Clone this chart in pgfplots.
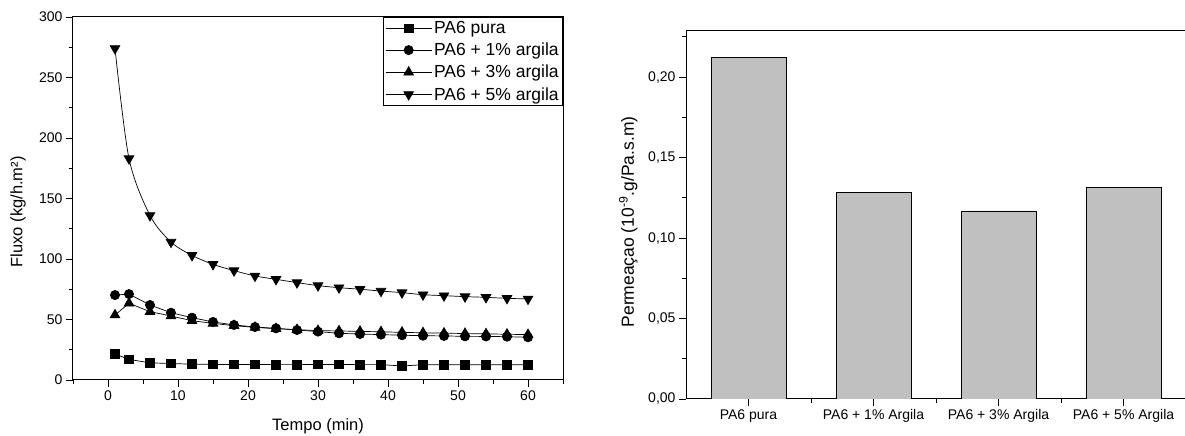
\documentclass[border=0pt]{standalone}
\usepackage{pgfplots}
\pgfplotsset{compat=1.18}
\usepackage{fontspec}
\setmainfont{Liberation Sans}

\begin{document}
\begin{tikzpicture}[x=1pt,y=1pt]
\useasboundingbox (0,0) rectangle (1185,436);
% left: flux vs time
\begin{axis}[
  at={(73pt,56pt)}, anchor=south west,
  scale only axis, width=490pt, height=363pt,
  xmin=-5, xmax=65, ymin=0, ymax=300,
  xtick={0,10,...,60}, ytick={0,50,...,300},
  minor xtick={-5,5,...,65}, minor ytick={25,75,...,275},
  tick align=outside, xtick pos=bottom, ytick pos=left,
  major tick length=7pt, minor tick length=4pt,
  tick style={black, line width=0.8pt},
  axis line style={line width=1pt},
  ticklabel style={font=\fontsize{14}{16}\selectfont},
  /pgf/number format/assume math mode=true,
  xlabel={Tempo (min)}, ylabel={Fluxo (kg/h.m²)},
  label style={font=\fontsize{16.5}{19}\selectfont},
  xlabel style={at={(axis description cs:0.5,-0.126)}, anchor=center},
  ylabel style={at={(axis description cs:-0.112,0.463)}, anchor=center},
  legend style={at={(1,1)}, anchor=north east, draw=black, line width=0.6pt,
    font=\fontsize{17.5}{20}\selectfont, inner sep=2pt, row sep=4pt},
  legend cell align=left,
  legend image code/.code={\draw[mark repeat=2, mark phase=2, #1]
    plot coordinates {(0pt,0pt) (23pt,0pt) (46pt,0pt)};},
  every axis plot/.append style={black, line width=0.7pt},
]
\addplot[mark=square*, mark size=4.3pt] coordinates {
  (1,21.5) (3,17) (6,14.2) (9,13.6) (12,13.1) (15,12.9) (18,12.8) (21,12.8)
  (24,12.7) (27,12.7) (30,12.8) (33,12.8) (36,12.7) (39,12.7) (42,11.6)
  (45,12.6) (48,12.6) (51,12.6) (54,12.6) (57,12.6) (60,12.6)
};
\addlegendentry{PA6 pura}
\addplot[mark=*, mark size=4.6pt] coordinates {
  (1,70.2) (3,71) (6,62) (9,55.6) (12,51.5) (15,48) (18,45.5) (21,43.8)
  (24,42.7) (27,41.3) (30,40) (33,38.6) (36,38) (39,37.5) (42,37)
  (45,36.6) (48,36.4) (51,36.1) (54,36) (57,35.8) (60,35.3)
};
\addlegendentry{PA6 + 1\% argila}
\addplot[mark=triangle*, mark size=5.6pt] coordinates {
  (1,53.7) (3,63.4) (6,56.5) (9,52.9) (12,49) (15,46.8) (18,44.9) (21,43.5)
  (24,42.4) (27,41.6) (30,40.8) (33,40.5) (36,40.2) (39,39.8) (42,39.4)
  (45,39) (48,38.7) (51,38.4) (54,38.1) (57,37.8) (60,37.5)
};
\addlegendentry{PA6 + 3\% argila}
\addplot[smooth, mark=triangle*, mark size=5.6pt, mark options={rotate=180}] coordinates {
  (1,274) (3,183) (6,136) (9,114) (12,103) (15,95.6) (18,90.4) (21,86)
  (24,83.2) (27,80.5) (30,78) (33,76.3) (36,75) (39,73.5) (42,72.2)
  (45,70.5) (48,69.7) (51,68.9) (54,68.3) (57,67.5) (60,67)
};
\addlegendentry{PA6 + 5\% argila}
\end{axis}
% right: permeation bars
\begin{axis}[
  at={(686pt,37pt)}, anchor=south west,
  scale only axis, width=502.5pt, height=368pt,
  xmin=-0.5, xmax=3.52, ymin=0, ymax=0.2286,
  ybar, bar width=0.6,
  xtick={0,1,2,3},
  xticklabels={PA6 pura, PA6 + 1\% Argila, PA6 + 3\% Argila, PA6 + 5\% Argila},
  minor xtick={0.5,1.5,2.5},
  ytick={0,0.05,0.1,0.15,0.2}, minor ytick={0.025,0.075,0.125,0.175,0.225},
  tick align=outside, xtick pos=bottom, ytick pos=left,
  major tick length=7pt, minor tick length=4pt,
  tick style={black, line width=0.8pt},
  axis line style={line width=1pt},
  ticklabel style={font=\fontsize{14}{16}\selectfont},
  yticklabel style={/pgf/number format/.cd, fixed, fixed zerofill, precision=2, use comma},
  /pgf/number format/assume math mode=true,
  ylabel={Permeaçao (10\textsuperscript{-9}.g/Pa.s.m)},
  label style={font=\fontsize{17.5}{20}\selectfont},
  ylabel style={at={(axis description cs:-0.115,0.481)}, anchor=center},
]
\addplot[draw=black, line width=0.8pt, fill={rgb,255:red,192;green,192;blue,192}] coordinates {
  (0,0.212) (1,0.1284) (2,0.1168) (3,0.1313)
};
\end{axis}
\end{tikzpicture}
\end{document}
